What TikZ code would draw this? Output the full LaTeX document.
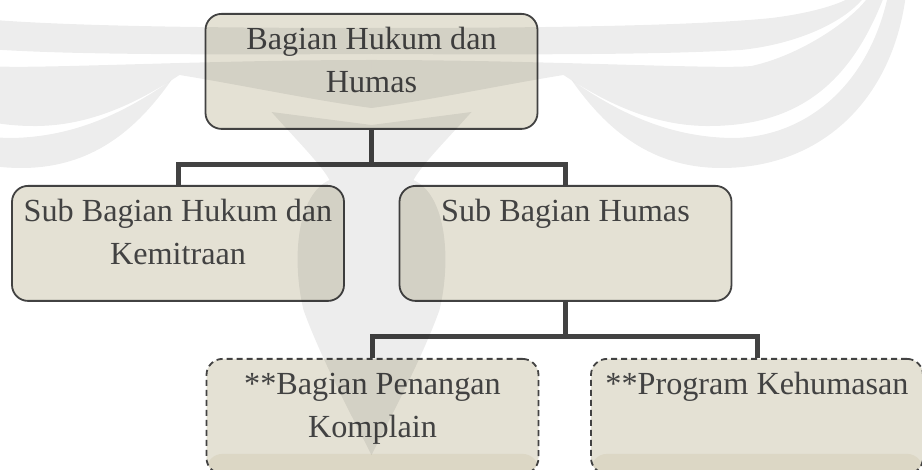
\documentclass[tikz,border=0pt]{standalone}
\usepackage{fontspec}
\setmainfont{Liberation Serif}
\usepackage{tikz}
\definecolor{krem}{RGB}{228,225,212}
\definecolor{pita}{RGB}{220,215,197}
\definecolor{abu}{RGB}{66,66,66}
\newcommand{\isi}[1]{\parbox[t][103pt][t]{320pt}{\centering\strut #1}}

\begin{document}
\begin{tikzpicture}[x=1pt,y=-1pt,
  kotak/.style={draw=abu, line width=1.8pt, fill=krem, rounded corners=16pt, inner sep=6pt, text=abu, font=\fontsize{32.2}{42.5}\selectfont, anchor=north},
  kotakputus/.style={kotak, dash pattern=on 6pt off 4pt, path picture={\fill[pita] (path picture bounding box.south west) rectangle ([yshift=20pt]path picture bounding box.south east);}},
  garis/.style={draw=abu, line width=5pt}]
\useasboundingbox (0,0) rectangle (922,470);
\clip (0,0) rectangle (922,470);
\fill [white] (0,0) rectangle (922,470);

\node [kotak] (atas) at (371.5,13) {\isi{Bagian Hukum dan\\Humas}};
\node [kotak] (kiri) at (178,185) {\isi{Sub Bagian Hukum dan\\Kemitraan}};
\node [kotak] (humas) at (565.5,185) {\isi{Sub Bagian Humas}};
\node [kotakputus] (komplain) at (372.5,358) {\isi{**Bagian Penangan\\Komplain}};
\node [kotakputus] (program) at (757,358) {\isi{**Program Kehumasan}};

\draw [garis] (atas.south) -- ++(0,35) -| (kiri.north);
\draw [garis] (atas.south) -- ++(0,35) -| (humas.north);
\draw [garis] (humas.south) -- ++(0,34.5) -| (komplain.north);
\draw [garis] (humas.south) -- ++(0,34.5) -| (program.north);

% logo samar di belakang
\begin{scope}[xshift=371.5pt, fill=black, fill opacity=0.07]
\fill (-100,112) .. controls (-75,140) and (-50,165) .. (-42,180) .. controls (-75,195) and (-80,260) .. (-68,310) .. controls (-50,360) and (-15,425) .. (0,455) .. controls (15,425) and (50,360) .. (68,310) .. controls (80,260) and (75,195) .. (42,180) .. controls (50,165) and (75,140) .. (100,112) -- (0,125) -- cycle;
\foreach \s in {1,-1} {
  \begin{scope}[xscale=\s]
  \fill (0,28) .. controls (200,28) and (330,25) .. (400,18) .. controls (440,13) and (465,5) .. (478,-2) -- (492,-2) .. controls (470,25) and (420,45) .. (369,50) .. controls (300,54) and (200,55) .. (0,54) -- cycle;
  \fill (0,60) .. controls (80,60) and (150,62) .. (192,63) .. controls (300,66) and (360,68) .. (380,66) .. controls (430,55) and (480,20) .. (496,-2) -- (512,-2) .. controls (480,80) and (430,125) .. (340,126) .. controls (280,127) and (230,100) .. (192,75) .. controls (130,85) and (60,100) .. (0,108) -- cycle;
  \fill (200,80) .. controls (250,115) and (300,137) .. (360,138) .. controls (430,138) and (495,90) .. (516,-2) -- (534,-2) .. controls (520,100) and (450,168) .. (350,168) .. controls (280,168) and (235,130) .. (200,80) -- cycle;
  \end{scope}
}
\end{scope}

\end{tikzpicture}
\end{document}
